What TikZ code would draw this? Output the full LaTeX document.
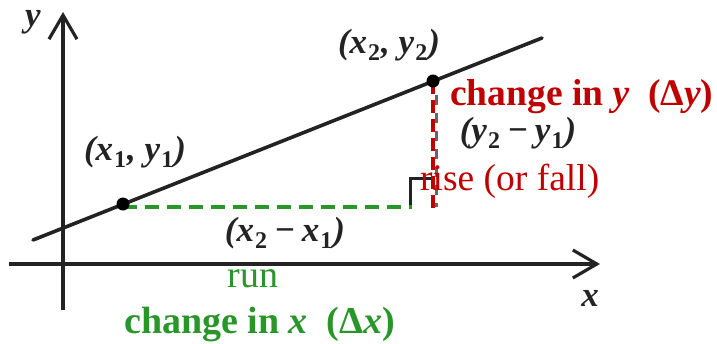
\documentclass[tikz,border=0pt]{standalone}
\usepackage{fontspec}
\setmainfont{Liberation Serif}
\usetikzlibrary{arrows.meta}
\definecolor{myred}{RGB}{192,0,0}
\definecolor{mygreen}{RGB}{40,150,40}
\definecolor{ink}{RGB}{35,35,35}
\newcommand{\sbx}[1]{\kern1pt\raisebox{-0.22em}{\fontsize{24}{24}\selectfont\upshape #1}\kern1pt}
\newcommand{\mns}{\hspace{7pt}\textup{−}\hspace{7pt}}
\tikzset{
  axis/.style={line width=3.2pt, draw=ink, -{Straight Barb[length=24pt,width=28pt,line width=3.2pt]}},
  graphline/.style={line width=3.6pt, draw=ink},
  dot/.style={circle, fill=black, inner sep=0pt, minimum size=13pt},
  lbl/.style={text=ink, font=\fontsize{35}{36}\selectfont\bfseries\itshape, inner sep=0pt},
  redtxt/.style={text=myred, inner sep=0pt, anchor=base west},
  greentxt/.style={text=mygreen, inner sep=0pt},
  rundash/.style={draw=mygreen, line width=3.8pt, dash pattern=on 14pt off 8pt},
  risedash/.style={draw=myred, line width=3.8pt, dash pattern=on 13pt off 6pt},
}
\begin{document}
\begin{tikzpicture}[x=1pt,y=-1pt]
\useasboundingbox (0,0) rectangle (717,343);
% axes
\coordinate (xs) at (9,264);
\coordinate (xe) at (600,264);
\coordinate (ys) at (63,310);
\coordinate (ye) at (63,12);
\draw[axis] (xs) -- (xe);
\draw[axis] (ys) -- (ye);
\node[lbl] (ylab) at (33,22) {y};
\node[lbl] (xlab) at (590,298) {x};
% line
\coordinate (ls) at (33,240);
\coordinate (le) at (542,38);
\draw[graphline, line cap=round] (ls) -- (le);
\coordinate (p1) at (123,204);
\coordinate (p2) at (433,81);
\coordinate (corner) at (433,208);
\coordinate (gend) at (412,207);
\coordinate (gstart) at (123,207);
% black right-angle marker and faint original dashed rise
\draw[ink, line width=3pt] (410,205) -- (410,178) -- (431,178);
\draw[ink!70, line width=3pt, dash pattern=on 10pt off 8pt] (436,95) -- (436,207);
% dashed run and rise
\draw[rundash] (gstart) -- (gend);
\draw[risedash] (p2) -- (corner);
\node[dot] (d1) at (p1) {};
\node[dot] (d2) at (p2) {};
% point labels
\node[lbl] (l2) at (389,45) {(x\sbx{2}, y\sbx{2})};
\node[lbl] (l1) at (135,152) {(x\sbx{1}, y\sbx{1})};
\node[lbl] (dy) at (518,133) {(y\sbx{2}\mns y\sbx{1})};
\node[lbl] (dx) at (285,233) {(x\sbx{2}\mns x\sbx{1})};
% coloured labels
\node[redtxt, font=\fontsize{37.5}{40}\selectfont\bfseries] (cy) at (450,105) {change in \textit{y}\ \ (Δ\textit{y})};
\node[redtxt, font=\fontsize{37.5}{40}\selectfont] (rise) at (420,190) {rise (or fall)};
\node[greentxt, font=\fontsize{38}{40}\selectfont] (run) at (253,279) {run};
\node[greentxt, anchor=base west, font=\fontsize{38}{40}\selectfont\bfseries] (cx) at (124,333) {change in \textit{x}\ \ (Δ\textit{x})};
\end{tikzpicture}
\end{document}
